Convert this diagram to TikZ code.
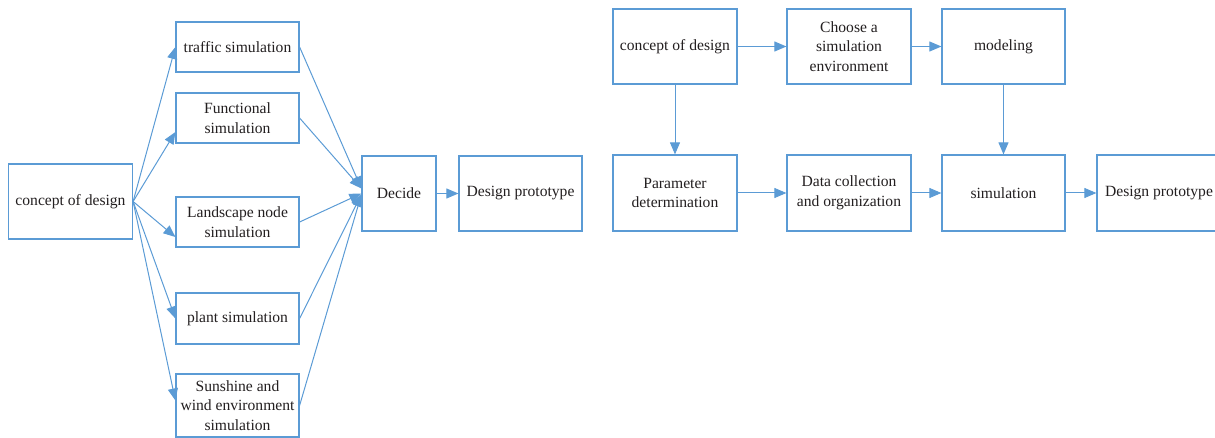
\documentclass[tikz,border=0pt]{standalone}
\usepackage{fontspec}
\setmainfont{Liberation Serif}
\newfontfamily\boxfont{Liberation Serif}
\usetikzlibrary{arrows.meta}
\definecolor{boxblue}{HTML}{5B9BD5}
\definecolor{txt}{HTML}{231F20}
\tikzset{
  box/.style={draw=boxblue, line width=1.2pt, fill=white, text=txt, align=center,
    inner sep=0pt, font=\boxfont\fontsize{15.6}{19.5}\selectfont},
  arr/.style={draw=boxblue, line width=1pt, -{Triangle[length=12pt,width=10pt]}},
}
\begin{document}
\begin{tikzpicture}[x=1pt,y=-1pt]
\clip (0,0) rectangle (1215,438);
\useasboundingbox (0,0) rectangle (1215,438);
% left diagram
\node[box, minimum width=124pt, minimum height=75pt] (c1) at (70.5,201.5) {concept of design};
\node[box, minimum width=123pt, minimum height=50pt] (traffic) at (237.5,47) {traffic simulation};
\node[box, minimum width=123pt, minimum height=50pt] (func) at (237.5,118) {Functional\\simulation};
\node[box, minimum width=123pt, minimum height=50pt] (land) at (237.5,222) {Landscape node\\simulation};
\node[box, minimum width=123pt, minimum height=51pt] (plant) at (237.5,318.5) {plant simulation};
\node[box, minimum width=123pt, minimum height=63pt] (sun) at (237.5,405.5) {Sunshine and\\wind environment\\simulation};
\node[box, minimum width=74pt, minimum height=75pt] (dec) at (399,193.5) {Decide};
\node[box, minimum width=123pt, minimum height=75pt] (dp1) at (520.5,193.5) {Design prototype};
\draw[arr] (c1.east) -- (traffic.west);
\draw[arr] (c1.east) -- ([yshift=-14pt]func.west);
\draw[arr] (c1.east) -- ([yshift=-15pt]land.west);
\draw[arr] (c1.east) -- (plant.west);
\draw[arr] (c1.east) -- ([yshift=5pt]sun.west);
\draw[arr] (traffic.east) -- ([yshift=5pt]dec.west);
\draw[arr] (func.east) -- ([yshift=5pt]dec.west);
\draw[arr] (land.east) -- (dec.west);
\draw[arr] (plant.east) -- ([yshift=-1pt]dec.west);
\draw[arr] (sun.east) -- ([yshift=-1pt]dec.west);
\draw[arr] (dec.east) -- (dp1.west);
% right diagram
\node[box, minimum width=124pt, minimum height=75pt] (rc) at (675,46.5) {concept of design};
\node[box, minimum width=124pt, minimum height=75pt] (choose) at (849,46.5) {Choose a\\simulation\\environment};
\node[box, minimum width=123pt, minimum height=75pt] (model) at (1003.5,46.5) {modeling};
\node[box, minimum width=124pt, minimum height=76pt] (param) at (675,193) {Parameter\\determination};
\node[box, minimum width=124pt, minimum height=76pt] (data) at (849,193) {Data collection\\and organization};
\node[box, minimum width=123pt, minimum height=76pt] (sim) at (1003.5,193) {simulation};
\node[box, minimum width=124pt, minimum height=76pt] (dp2) at (1159,193) {Design prototype};
\draw[arr] (rc.east) -- (choose.west);
\draw[arr] (choose.east) -- (model.west);
\draw[arr] (rc.south) -- (param.north);
\draw[arr] (model.south) -- (sim.north);
\draw[arr] (param.east) -- (data.west);
\draw[arr] (data.east) -- (sim.west);
\draw[arr] (sim.east) -- (dp2.west);
\end{tikzpicture}
\end{document}
